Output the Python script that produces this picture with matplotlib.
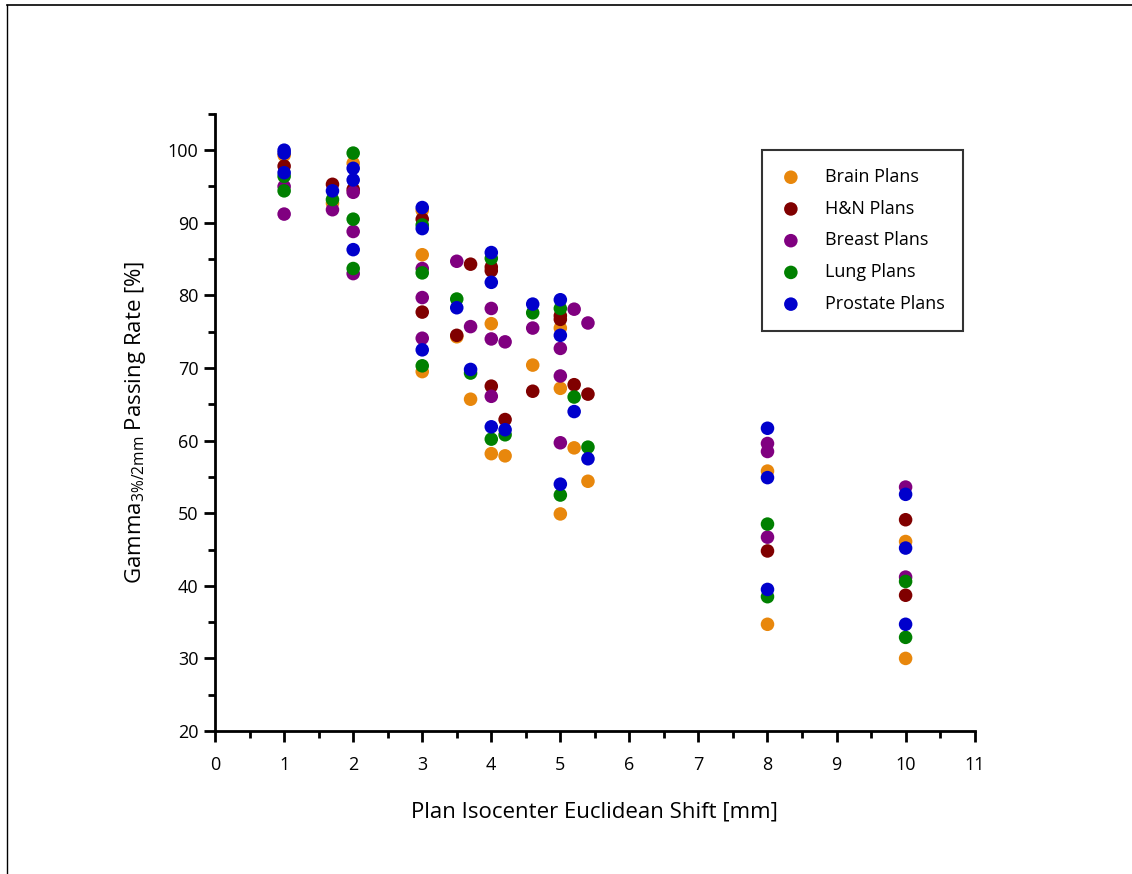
import matplotlib.pyplot as plt
from matplotlib.lines import Line2D
from matplotlib.ticker import MultipleLocator

plt.rcParams['font.family'] = ['Open Sans', 'DejaVu Sans']
plt.rcParams['mathtext.fontset'] = 'custom'
plt.rcParams['mathtext.rm'] = 'Open Sans'
plt.rcParams['mathtext.it'] = 'Open Sans'

# isocenter shift [mm] vs gamma passing rate [%] per plan type
brain_x = [1, 1.7, 2, 3, 3, 3, 3.5, 3.7, 4, 4, 4.2, 4.6, 5, 5, 5, 5.2, 5.4, 8, 8, 10, 10]
brain_y = [99.3, 92.7, 98.2, 91.7, 85.6, 69.5, 74.3, 65.7, 76.1, 58.2, 57.9, 70.4, 75.5, 67.2, 49.9, 59.0, 54.4, 55.8, 34.7, 46.1, 30.0]

hn_x = [1, 1.7, 2, 3, 3, 3.5, 3.7, 4, 4, 4, 4.2, 4.6, 5, 5, 5.2, 5.4, 8, 10, 10]
hn_y = [97.8, 95.3, 94.6, 90.5, 77.7, 74.5, 84.3, 83.9, 83.4, 67.5, 62.9, 66.8, 77.2, 76.7, 67.7, 66.4, 44.8, 49.1, 38.7]

breast_x = [1, 1, 1.7, 2, 2, 2, 3, 3, 3, 3.5, 3.7, 4, 4, 4, 4.2, 4.6, 5, 5, 5, 5.2, 5.4, 8, 8, 8, 10, 10]
breast_y = [95.0, 91.2, 91.8, 94.2, 88.8, 83.0, 83.7, 79.7, 74.1, 84.7, 75.7, 78.2, 74.0, 66.1, 73.6, 75.5, 72.7, 68.9, 59.7, 78.1, 76.2, 59.6, 58.5, 46.7, 53.6, 41.2]

lung_x = [1, 1, 1.7, 2, 2, 2, 3, 3, 3, 3.5, 3.7, 4, 4, 4.2, 4.6, 5, 5, 5.2, 5.4, 8, 8, 10, 10]
lung_y = [96.4, 94.4, 93.2, 99.6, 90.5, 83.7, 89.7, 83.1, 70.3, 79.5, 69.3, 85.1, 60.2, 60.8, 77.6, 78.2, 52.5, 66.0, 59.1, 48.5, 38.5, 40.6, 32.9]

prostate_x = [1, 1, 1, 1.7, 2, 2, 2, 3, 3, 3, 3.5, 3.7, 4, 4, 4, 4.2, 4.6, 5, 5, 5, 5.2, 5.4, 8, 8, 8, 10, 10, 10]
prostate_y = [100.0, 99.6, 96.9, 94.4, 97.5, 95.9, 86.3, 92.1, 89.2, 72.5, 78.3, 69.8, 85.9, 81.8, 61.9, 61.5, 78.8, 79.4, 74.5, 54.0, 64.0, 57.5, 61.7, 54.9, 39.5, 52.6, 45.2, 34.7]

series = [
    ("Brain Plans", brain_x, brain_y, "#e8870c"),
    ("H&N Plans", hn_x, hn_y, "#800000"),
    ("Breast Plans", breast_x, breast_y, "#800080"),
    ("Lung Plans", lung_x, lung_y, "#008000"),
    ("Prostate Plans", prostate_x, prostate_y, "#0000cc"),
]

fig = plt.figure(figsize=(11.32, 8.74), dpi=100)
ax = fig.add_axes([0.19, 0.1636, 0.671, 0.7061])

for name, xs, ys, col in series:
    ax.scatter(xs, ys, s=95, color=col, edgecolors='none', label=name, zorder=3)

ax.set_xlim(0, 11)
ax.set_ylim(20, 105)
ax.xaxis.set_major_locator(MultipleLocator(1))
ax.xaxis.set_minor_locator(MultipleLocator(0.5))
ax.yaxis.set_major_locator(MultipleLocator(10))
ax.yaxis.set_minor_locator(MultipleLocator(5))
ax.set_yticks(range(20, 101, 10))

for s in ['top', 'right']:
    ax.spines[s].set_visible(False)
for s in ['left', 'bottom']:
    ax.spines[s].set_linewidth(2)

ax.tick_params(which='major', direction='out', length=8, width=2, labelsize=13, colors='black')
ax.tick_params(which='minor', direction='out', length=5, width=2)
ax.tick_params(axis='x', pad=10)
ax.tick_params(axis='y', pad=4)

ax.set_xlabel("Plan Isocenter Euclidean Shift [mm]", fontsize=16, labelpad=20)
ax.set_ylabel(r"Gamma$_{\mathrm{3\%/2mm}}$ Passing Rate [%]", fontsize=16, labelpad=14)

leg = ax.legend(loc='upper left', bbox_to_anchor=(0.72, 0.9416), borderaxespad=0, fontsize=13,
                frameon=True, fancybox=False, edgecolor='black', borderpad=1.0,
                labelspacing=0.76, handlelength=1.2, handletextpad=1.3, scatterpoints=1)
leg.get_frame().set_linewidth(1.5)

# thin frame along top and left of the figure
fig.add_artist(Line2D([7 / 1132, 1], [1 - 5 / 874, 1 - 5 / 874], transform=fig.transFigure, color='black', lw=1.2))
fig.add_artist(Line2D([7 / 1132, 7 / 1132], [0, 1 - 5 / 874], transform=fig.transFigure, color='black', lw=1.0))

fig.savefig("out.png", dpi=100)
